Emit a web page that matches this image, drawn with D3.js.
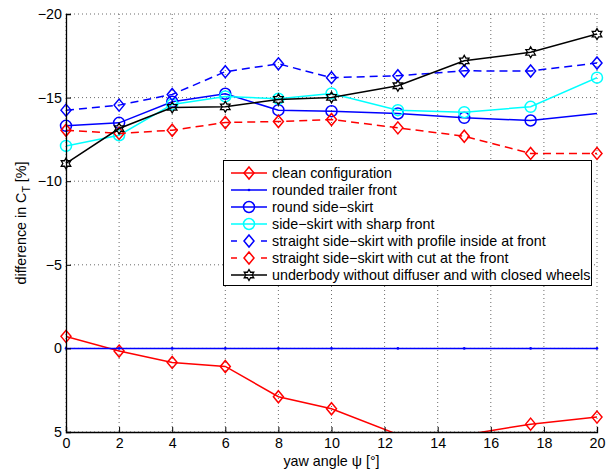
<!DOCTYPE html>
<html>
<head>
<meta charset="utf-8">
<script src="https://cdn.jsdelivr.net/npm/d3@7"></script>
<style>
  body { margin: 0; background: #fff; }
  text { font-family: "Liberation Sans", Arial, sans-serif; }
</style>
</head>
<body>
<div id="chart"></div>
<script>
// yaw angles (deg)
const yaw = [0, 2, 4, 6, 8, 10, 12.5, 15, 17.5, 20];

// difference in C_T [%] per configuration
const clean = [-0.72, 0.16, 0.84, 1.08, 2.89, 3.61, 5.15, 5.18, 4.53, 4.11];
const roundedFront = [0, 0, 0, 0, 0, 0, 0, 0, 0, 0];
const roundSkirt = [-13.31, -13.49, -14.75, -15.23, -14.25, -14.19, -14.05, -13.79, -13.63, -14.05];
const sharpSkirt = [-12.11, -12.75, -14.59, -15.07, -14.93, -15.25, -14.25, -14.13, -14.45, -16.19];
const profileSkirt = [-14.25, -14.55, -15.19, -16.55, -17.02, -16.19, -16.31, -16.6, -16.59, -17.07];
const cutSkirt = [-13.05, -12.86, -13.05, -13.51, -13.57, -13.69, -13.19, -12.69, -11.66, -11.66];
const underbody = [-11.06, -13.15, -14.41, -14.45, -14.89, -15.01, -15.71, -17.2, -17.71, -18.8];

const labels = [
  "clean configuration",
  "rounded trailer front",
  "round side\u2212skirt",
  "side\u2212skirt with sharp front",
  "straight side\u2212skirt with profile inside at front",
  "straight side\u2212skirt with cut at the front",
  "underbody without diffuser and with closed wheels"
];

const xTicks = [0, 2, 4, 6, 8, 10, 12, 14, 16, 18, 20];
const yTicks = [-20, -15, -10, -5, 0, 5];

const series = [
  { name: labels[0], values: clean, color: "#ff0000", dash: null, marker: "diamond" },
  { name: labels[1], values: roundedFront, color: "#0000ff", dash: null, marker: "dot" },
  { name: labels[2], values: roundSkirt, color: "#0000ff", dash: null, marker: "circle", noMarkLast: true },
  { name: labels[3], values: sharpSkirt, color: "#00ffff", dash: null, marker: "circle" },
  { name: labels[4], values: profileSkirt, color: "#0000ff", dash: "8,5", marker: "diamond" },
  { name: labels[5], values: cutSkirt, color: "#ff0000", dash: "8,5", marker: "diamond" },
  { name: labels[6], values: underbody, color: "#000000", dash: null, marker: "hexagram" }
];

const width = 611;
const height = 470;
const margin = { left: 66, right: 14, top: 14, bottom: 38 };
const fontSize = "14.3px";

const svg = d3.select("#chart")
  .append("svg")
  .attr("width", width)
  .attr("height", height);

const x = d3.scaleLinear().domain([0, 20]).range([margin.left, width - margin.right]);
const y = d3.scaleLinear().domain([-20, 5]).range([margin.top, height - margin.bottom]);

// grid
const grid = svg.append("g")
  .attr("stroke", "#444")
  .attr("stroke-width", 0.8)
  .attr("stroke-dasharray", "1,3");
grid.selectAll("line.vx")
  .data(xTicks)
  .join("line")
  .attr("x1", d => x(d)).attr("x2", d => x(d))
  .attr("y1", y(-20)).attr("y2", y(5));
grid.selectAll("line.hy")
  .data(yTicks)
  .join("line")
  .attr("x1", x(0)).attr("x2", x(20))
  .attr("y1", d => y(d)).attr("y2", d => y(d));

// clip for data lines
svg.append("clipPath").attr("id", "clip")
  .append("rect")
  .attr("x", x(0)).attr("y", y(-20))
  .attr("width", x(20) - x(0)).attr("height", y(5) - y(-20));

const hexagram = (r) => {
  const pts = [];
  for (let i = 0; i < 12; i++) {
    const a = Math.PI / 6 * i - Math.PI / 2;
    const rr = i % 2 === 0 ? r : r / Math.sqrt(3);
    pts.push([rr * Math.cos(a), rr * Math.sin(a)]);
  }
  return "M" + pts.map(p => p.join(",")).join("L") + "Z";
};

// draw one marker into a group at (cx, cy)
const drawMarker = (g, type, cx, cy, color) => {
  if (type === "diamond") {
    g.append("path")
      .attr("d", `M${cx},${cy - 6}L${cx + 5},${cy}L${cx},${cy + 6}L${cx - 5},${cy}Z`)
      .attr("fill", "none").attr("stroke", color).attr("stroke-width", 1.5);
  } else if (type === "circle") {
    g.append("circle")
      .attr("cx", cx).attr("cy", cy).attr("r", 5.5)
      .attr("fill", "none").attr("stroke", color).attr("stroke-width", 1.5);
  } else if (type === "dot") {
    g.append("circle")
      .attr("cx", cx).attr("cy", cy).attr("r", 1.3)
      .attr("fill", color);
  } else if (type === "hexagram") {
    g.append("path")
      .attr("d", hexagram(5.5))
      .attr("transform", `translate(${cx},${cy})`)
      .attr("fill", "none").attr("stroke", color).attr("stroke-width", 1.3);
  }
};

const line = d3.line()
  .x((d, i) => x(yaw[i]))
  .y(d => y(d));

series.forEach(s => {
  const g = svg.append("g");
  g.append("path")
    .attr("d", line(s.values))
    .attr("clip-path", "url(#clip)")
    .attr("fill", "none")
    .attr("stroke", s.color)
    .attr("stroke-width", 1.5)
    .attr("stroke-dasharray", s.dash);
  s.values.forEach((v, i) => {
    if (v < -20 || v > 5) return; // markers outside axes are not drawn
    if (s.noMarkLast && i === s.values.length - 1) return;
    drawMarker(g, s.marker, x(yaw[i]), y(v), s.color);
  });
});

// axes
const xAxis = d3.axisBottom(x)
  .tickValues(xTicks)
  .tickSize(-5)
  .tickPadding(6)
  .tickFormat(d3.format("d"));
const yAxis = d3.axisLeft(y)
  .tickValues(yTicks)
  .tickSize(-5)
  .tickPadding(4)
  .tickFormat(d => d < 0 ? "\u2212" + Math.abs(d) : d);

const gx = svg.append("g")
  .attr("transform", `translate(0,${y(5)})`)
  .call(xAxis);
const gy = svg.append("g")
  .attr("transform", `translate(${x(0)},0)`)
  .call(yAxis);
[gx, gy].forEach(g => {
  g.select(".domain").attr("stroke", "#000").attr("stroke-width", 1.3);
  g.selectAll(".tick line").attr("stroke", "#000");
  g.selectAll(".tick text").attr("fill", "#000").style("font-size", fontSize);
});

// axis labels
svg.append("text")
  .attr("x", (x(0) + x(20)) / 2)
  .attr("y", 466)
  .attr("text-anchor", "middle")
  .style("font-size", fontSize)
  .text("yaw angle \u03c8 [\u00b0]");

const yl = svg.append("text")
  .attr("transform", `translate(26,${(y(-20) + y(5)) / 2}) rotate(-90)`)
  .attr("text-anchor", "middle")
  .style("font-size", fontSize);
yl.append("tspan").text("difference in C");
yl.append("tspan").attr("dy", 4).style("font-size", "10.5px").text("T");
yl.append("tspan").attr("dy", -4).text(" [%]");

// legend
const lg = svg.append("g");
lg.append("rect")
  .attr("x", 223.5).attr("y", 160.5)
  .attr("width", 368).attr("height", 125)
  .attr("fill", "#fff")
  .attr("stroke", "#000")
  .attr("stroke-width", 1);

series.forEach((s, i) => {
  const cy = 173 + 17 * i;
  const row = lg.append("g");
  row.append("line")
    .attr("x1", 231).attr("x2", 267)
    .attr("y1", cy).attr("y2", cy)
    .attr("stroke", s.color)
    .attr("stroke-width", 1.5)
    .attr("stroke-dasharray", s.dash ? "6,24" : null);
  drawMarker(row, s.marker, 249, cy, s.color);
  row.append("text")
    .attr("x", 272)
    .attr("y", cy)
    .attr("dy", "0.35em")
    .style("font-size", fontSize)
    .text(s.name);
});
</script>
</body>
</html>
